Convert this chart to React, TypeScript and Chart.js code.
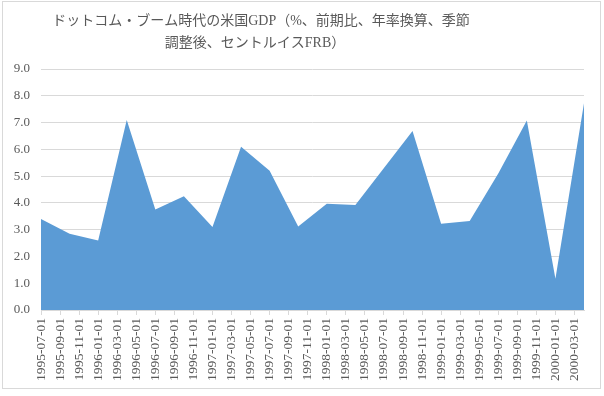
import React, { useEffect, useRef } from "react";
import { Chart, registerables } from "chart.js";

Chart.register(...registerables);

const TITLE_LINES = [
  "ドットコム・ブーム時代の米国GDP（%、前期比、年率換算、季節",
  "調整後、セントルイスFRB）",
];

const quarterDates = [
  "1995-07-01", "1995-10-01", "1996-01-01", "1996-04-01", "1996-07-01",
  "1996-10-01", "1997-01-01", "1997-04-01", "1997-07-01", "1997-10-01",
  "1998-01-01", "1998-04-01", "1998-07-01", "1998-10-01", "1999-01-01",
  "1999-04-01", "1999-07-01", "1999-10-01", "2000-01-01", "2000-04-01",
];

const gdpGrowth = [
  3.4, 2.85, 2.6, 7.1, 3.75,
  4.25, 3.1, 6.1, 5.2, 3.12,
  3.97, 3.92, 5.3, 6.68, 3.22,
  3.32, 5.1, 7.08, 1.17, 7.72,
];

const START_YEAR = 1995;
const START_MONTH = 7;
const yTicks = { min: 0, max: 9, step: 1 };
const xTickStepMonths = 2;

const toMonthIndex = (d: string) => {
  const [y, m] = d.split("-").map(Number);
  return (y - START_YEAR) * 12 + (m - START_MONTH);
};
const fromMonthIndex = (i: number) => {
  const total = START_MONTH - 1 + i;
  const y = START_YEAR + Math.floor(total / 12);
  const m = (total % 12) + 1;
  return `${y}-${String(m).padStart(2, "0")}-01`;
};

const FONT = '"Liberation Serif", "Noto Sans CJK JP", serif';
const TEXT = "#595959";
const GRID = "#d9d9d9";

export default function App() {
  const ref = useRef<HTMLCanvasElement | null>(null);

  useEffect(() => {
    if (!ref.current) return;
    const points = quarterDates.map((d, i) => ({ x: toMonthIndex(d), y: gdpGrowth[i] }));
    const lastIdx = toMonthIndex(quarterDates[quarterDates.length - 1]);

    const frame = {
      id: "frame",
      beforeDraw(chart: any) {
        const ctx = chart.ctx;
        ctx.save();
        ctx.fillStyle = "#ffffff";
        ctx.fillRect(0, 0, chart.width, chart.height);
        ctx.strokeStyle = GRID;
        ctx.lineWidth = 1;
        ctx.strokeRect(2.5, 1.5, 598, 387);
        ctx.fillStyle = TEXT;
        ctx.font = `14px ${FONT}`;
        ctx.textAlign = "center";
        ctx.textBaseline = "middle";
        ctx.fillText(TITLE_LINES[0], 261, 21);
        ctx.fillText(TITLE_LINES[1], 255, 43);
        ctx.restore();
      },
    };

    const chart = new Chart(ref.current, {
      type: "line",
      data: {
        datasets: [
          {
            data: points,
            fill: "origin",
            backgroundColor: "#5b9bd5",
            borderColor: "#5b9bd5",
            borderWidth: 0,
            pointRadius: 0,
            tension: 0,
          },
        ],
      },
      options: {
        responsive: false,
        animation: false,
        layout: { padding: { left: 0, right: 20, top: 69, bottom: 0 } },
        plugins: { legend: { display: false }, tooltip: { enabled: false }, title: { display: false } },
        scales: {
          x: {
            type: "linear",
            min: 0,
            max: lastIdx,
            afterFit: (s: any) => { s.height = 86; },
            afterBuildTicks: (s: any) => {
              const t = [];
              for (let i = 0; i <= lastIdx; i += xTickStepMonths) t.push({ value: i });
              s.ticks = t;
            },
            grid: { drawOnChartArea: false, drawTicks: true, tickLength: 5, color: GRID },
            border: { display: true, color: GRID },
            ticks: {
              autoSkip: false,
              maxRotation: 90,
              minRotation: 90,
              padding: 3,
              color: TEXT,
              font: { family: FONT, size: 13.5 },
              callback: (v: any) => fromMonthIndex(Number(v)),
            },
          },
          y: {
            min: yTicks.min,
            max: yTicks.max,
            afterFit: (s: any) => { s.width = 41; },
            grid: { color: GRID, drawTicks: false },
            border: { display: false },
            ticks: {
              stepSize: yTicks.step,
              padding: 11,
              color: TEXT,
              font: { family: FONT, size: 13 },
              callback: (v: any) => Number(v).toFixed(1),
            },
          },
        },
      },
      plugins: [frame],
    });
    return () => chart.destroy();
  }, []);

  return (
    <div style={{ position: "fixed", left: 0, top: 0, width: 604, height: 396 }}>
      <canvas ref={ref} width={604} height={396} style={{ width: 604, height: 396 }} />
    </div>
  );
}
